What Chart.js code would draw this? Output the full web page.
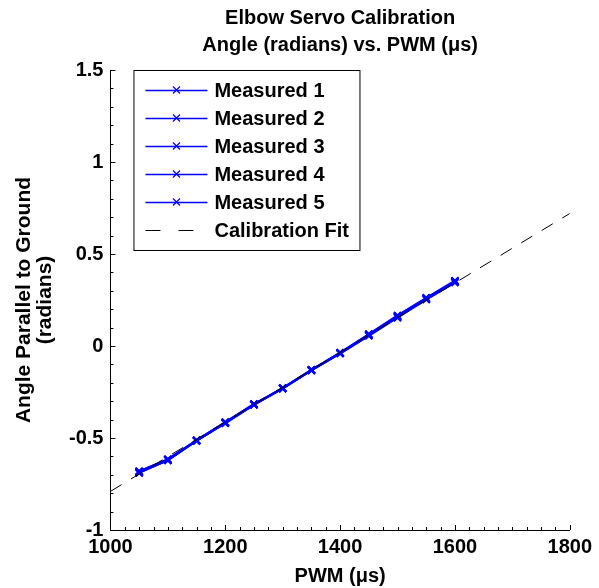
<!DOCTYPE html>
<html>
<head>
<meta charset="utf-8">
<script src="https://cdn.jsdelivr.net/npm/chart.js@4.4.1/dist/chart.umd.min.js"></script>
<style>
  html, body { margin: 0; padding: 0; background: #fff; }
</style>
</head>
<body>
<canvas id="chart" width="599" height="588"></canvas>
<script>
// --- data ---
const titleLines = ['Elbow Servo Calibration', 'Angle (radians) vs. PWM (\u03bcs)'];
const xTitle = 'PWM (\u03bcs)';
const yTitle = ['Angle Parallel to Ground', '(radians)'];

const pwm = [1050, 1100, 1150, 1200, 1250, 1300, 1350, 1400, 1450, 1500, 1550, 1600];
const measured1 = [-0.690, -0.620, -0.515, -0.420, -0.320, -0.232, -0.133, -0.040, 0.058, 0.158, 0.255, 0.348];
const measured2 = [-0.682, -0.615, -0.513, -0.415, -0.315, -0.230, -0.131, -0.038, 0.062, 0.162, 0.258, 0.352];
const measured3 = [-0.686, -0.622, -0.514, -0.418, -0.318, -0.228, -0.130, -0.036, 0.065, 0.166, 0.262, 0.355];
const measured4 = [-0.680, -0.617, -0.512, -0.414, -0.316, -0.231, -0.132, -0.041, 0.055, 0.154, 0.252, 0.345];
const measured5 = [-0.688, -0.619, -0.516, -0.417, -0.319, -0.229, -0.129, -0.037, 0.060, 0.160, 0.259, 0.350];
const measuredLabels = ['Measured 1', 'Measured 2', 'Measured 3', 'Measured 4', 'Measured 5'];

const fitPwm = [1000, 1800];
const fitAngle = [-0.79, 0.72];

const xMin = 1000, xMax = 1800, xStep = 200, xMinor = 25;
const yMin = -1, yMax = 1.5, yStep = 0.5, yMinor = 0.1;

const FONT = "'Liberation Sans', Arial, Helvetica, sans-serif";
Chart.defaults.font.family = FONT;
Chart.defaults.color = '#000';

const toPoints = (xs, ys) => xs.map((x, i) => ({ x: x, y: ys[i] }));

const measuredSets = [measured1, measured2, measured3, measured4, measured5].map((vals, i) => ({
    label: measuredLabels[i],
    data: toPoints(pwm, vals),
    borderColor: '#0000ff',
    backgroundColor: '#0000ff',
    borderWidth: 2,
    pointStyle: 'crossRot',
    pointRadius: 5,
    pointBorderWidth: 2,
    showLine: true,
    order: 1
}));

const fitSet = {
    label: 'Calibration Fit',
    data: toPoints(fitPwm, fitAngle),
    borderColor: '#000',
    borderWidth: 1,
    borderDash: [13, 11],
    pointRadius: 0,
    showLine: true,
    order: 0
};

// title centred over the axes, like matlab
const axesTitle = {
    id: 'axesTitle',
    afterDraw(chart) {
        const { ctx, chartArea: a } = chart;
        ctx.save();
        ctx.font = 'bold 20px ' + FONT;
        ctx.fillStyle = '#000';
        ctx.textAlign = 'center';
        ctx.textBaseline = 'middle';
        const cx = (a.left + a.right) / 2;
        titleLines.forEach((t, i) => ctx.fillText(t, cx, 18 + i * 27));
        ctx.restore();
    }
};

// inward major/minor ticks on bottom and left axes
const inwardTicks = {
    id: 'inwardTicks',
    afterDatasetsDraw(chart) {
        const { ctx, chartArea: a, scales: { x, y } } = chart;
        ctx.save();
        ctx.strokeStyle = '#000';
        ctx.lineWidth = 1;
        ctx.beginPath();
        const nx = Math.round((xMax - xMin) / xMinor);
        for (let i = 0; i <= nx; i++) {
            const v = xMin + i * xMinor;
            const px = Math.round(x.getPixelForValue(v)) + 0.5;
            const len = (v - xMin) % xStep === 0 ? 5 : 3;
            ctx.moveTo(px, a.bottom);
            ctx.lineTo(px, a.bottom - len);
        }
        const ny = Math.round((yMax - yMin) / yMinor);
        const per = Math.round(yStep / yMinor);
        for (let i = 0; i <= ny; i++) {
            const v = yMin + i * yMinor;
            const py = Math.round(y.getPixelForValue(v)) + 0.5;
            const len = i % per === 0 ? 5 : 3;
            ctx.moveTo(a.left, py);
            ctx.lineTo(a.left + len, py);
        }
        ctx.stroke();
        ctx.restore();
    }
};

// boxed legend in the top-left of the axes
const boxLegend = {
    id: 'boxLegend',
    afterDraw(chart) {
        const { ctx, chartArea: a } = chart;
        const sets = chart.data.datasets;
        const left = a.left + 23, top = a.top, w = 226, rowH = 28;
        const h = rowH * (sets.length - 1) + 40;
        ctx.save();
        ctx.fillStyle = '#fff';
        ctx.fillRect(left, top, w, h);
        ctx.strokeStyle = '#000';
        ctx.lineWidth = 1;
        ctx.strokeRect(left + 0.5, top + 0.5, w, h);
        ctx.font = 'bold 20px ' + FONT;
        ctx.textBaseline = 'middle';
        sets.forEach((ds, i) => {
            const cy = top + 20 + i * rowH;
            const x0 = left + 12, x1 = left + 74, xm = (x0 + x1) / 2;
            ctx.strokeStyle = ds.borderColor;
            ctx.lineWidth = ds.borderDash ? 1 : 1.5;
            ctx.setLineDash(ds.borderDash ? [15, 18] : []);
            ctx.beginPath();
            ctx.moveTo(x0, cy + 0.5);
            ctx.lineTo(x1, cy + 0.5);
            ctx.stroke();
            ctx.setLineDash([]);
            if (ds.pointRadius) {
                const r = 3.5;
                ctx.lineWidth = 1.2;
                ctx.beginPath();
                ctx.moveTo(xm - r, cy - r); ctx.lineTo(xm + r, cy + r);
                ctx.moveTo(xm - r, cy + r); ctx.lineTo(xm + r, cy - r);
                ctx.stroke();
            }
            ctx.fillStyle = '#000';
            ctx.fillText(ds.label, left + 81, cy + 1);
        });
        ctx.restore();
    }
};

new Chart(document.getElementById('chart'), {
    type: 'scatter',
    data: { datasets: [...measuredSets, fitSet] },
    options: {
        responsive: false,
        animation: false,
        layout: { padding: { left: 14, right: 27, top: 70, bottom: 0 } },
        plugins: {
            legend: { display: false },
            title: { display: false },
            tooltip: { enabled: false }
        },
        scales: {
            x: {
                type: 'linear',
                min: xMin, max: xMax,
                grid: { display: false, drawTicks: false },
                border: { display: true, color: '#000', width: 1 },
                ticks: {
                    stepSize: xStep, padding: 7, maxRotation: 0,
                    font: { size: 20, weight: 'bold', lineHeight: 1.0 },
                    callback: v => String(v)
                },
                title: { display: true, text: xTitle, font: { size: 20, weight: 'bold' }, padding: { top: 0, bottom: 0 } }
            },
            y: {
                type: 'linear',
                min: yMin, max: yMax,
                grid: { display: false, drawTicks: false },
                border: { display: true, color: '#000', width: 1 },
                ticks: {
                    stepSize: yStep, padding: 7,
                    font: { size: 20, weight: 'bold' },
                    callback: v => String(+v.toFixed(2))
                },
                title: { display: true, text: yTitle, font: { size: 21, weight: 'bold', lineHeight: 1.0 }, padding: { top: 0, bottom: 6 } }
            }
        }
    },
    plugins: [axesTitle, inwardTicks, boxLegend]
});
</script>
</body>
</html>
